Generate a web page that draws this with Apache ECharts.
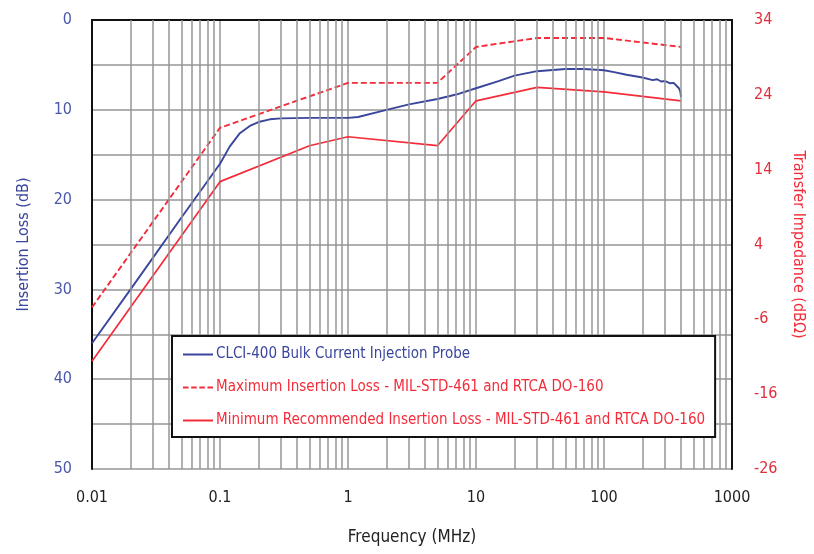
<!DOCTYPE html>
<html>
<head>
<meta charset="utf-8">
<script src="https://cdn.jsdelivr.net/npm/echarts@6/dist/echarts.min.js"></script>
<style>html,body{margin:0;padding:0;background:#fff}#c{width:814px;height:554px}</style>
</head>
<body>
<div id="c"></div>
<script>
// ---- data ----
const xTickLabels = ['0.01', '0.1', '1', '10', '100', '1000'];
const leftTickLabels = ['0', '10', '20', '30', '40', '50'];
const rightTickLabels = ['34', '24', '14', '4', '-6', '-16', '-26'];

const probeFreq = [0.01, 0.02, 0.05, 0.1, 0.119, 0.143, 0.171, 0.204, 0.245, 0.3, 0.5, 1, 1.2, 2, 3, 5, 7, 10, 15, 20, 30, 50, 70, 100, 120, 150, 200, 240, 260, 280, 300, 330, 350, 370, 385, 395, 400];
const probeLoss = [36, 30, 22, 16, 14.1, 12.6, 11.8, 11.33, 11.06, 10.95, 10.9, 10.9, 10.8, 10.0, 9.4, 8.8, 8.3, 7.6, 6.8, 6.2, 5.7, 5.45, 5.45, 5.6, 5.8, 6.1, 6.4, 6.7, 6.6, 6.85, 6.8, 7.05, 7.0, 7.35, 7.6, 8.0, 8.6];

const maxFreq = [0.01, 0.1, 1, 5, 10, 30, 100, 400];
const maxLoss = [32, 12, 7, 7, 3, 2, 2, 3];

const minFreq = [0.01, 0.1, 0.5, 1, 5, 10, 30, 100, 400];
const minLoss = [38, 18, 14, 13, 14, 9, 7.5, 8, 9];

const seriesNames = [
  'CLCI-400 Bulk Current Injection Probe',
  'Maximum Insertion Loss - MIL-STD-461 and RTCA DO-160',
  'Minimum Recommended Insertion Loss - MIL-STD-461 and RTCA DO-160'
];

// minor vertical grid lines (2..9 within each decade)
const minorGridFreq = [];
[0.01, 0.1, 1, 10, 100].forEach(d => { for (let k = 2; k <= 9; k++) minorGridFreq.push(+(d * k).toPrecision(3)); });

const BLUE = '#3a469c';
const RED = '#f42c3a';
const GRID = '#969696';
const FONT = '"DejaVu Sans Condensed", "Liberation Sans Narrow", sans-serif';
const zip = (a, b) => a.map((x, i) => [x, b[i]]);
const ICON_SOLID = 'path://M0,0H30V2H0Z';
const ICON_DASH = 'path://M0,0H5.5V2H0Z M8.2,0H13.7V2H8.2Z M16.3,0H21.8V2H16.3Z M24.5,0H30V2H24.5Z';

const chart = echarts.init(document.getElementById('c'), null, { renderer: 'canvas' });
chart.setOption({
  animation: false,
  backgroundColor: '#fff',
  textStyle: { fontFamily: FONT },
  grid: { left: 92, right: 81, top: 20, bottom: 85, containLabel: false },
  legend: {
    orient: 'vertical',
    left: 172, top: 336, z: 20,
    padding: [11, 10, 9, 11],
    backgroundColor: '#fff',
    borderColor: '#111', borderWidth: 2, borderRadius: 0,
    itemWidth: 30, itemHeight: 14, itemGap: 18,
    textStyle: { fontFamily: FONT, fontSize: 15, padding: [0, 0, 0, -2] },
    data: [
      { name: seriesNames[0], icon: ICON_SOLID, textStyle: { color: BLUE } },
      { name: seriesNames[1], icon: ICON_DASH, textStyle: { color: RED } },
      { name: seriesNames[2], icon: ICON_SOLID, textStyle: { color: RED } }
    ]
  },
  xAxis: [{
    type: 'log', logBase: 10, min: 0.01, max: 1000,
    name: 'Frequency (MHz)', nameLocation: 'middle', nameGap: 60,
    nameTextStyle: { color: '#222', fontSize: 17, fontFamily: FONT },
    axisLine: { show: true, lineStyle: { color: '#111', width: 2 } },
    axisTick: { show: false },
    axisLabel: { color: '#222', fontSize: 16, margin: 21,
      formatter: v => xTickLabels[Math.round(Math.log10(v)) + 2] },
    splitLine: { show: true, lineStyle: { color: GRID, width: 1.5 } }
  }, {
    type: 'log', logBase: 10, min: 0.01, max: 1000, position: 'top',
    axisLine: { show: true, lineStyle: { color: '#111', width: 2 } },
    axisTick: { show: false }, axisLabel: { show: false }, splitLine: { show: false }
  }],
  yAxis: [{
    type: 'value', min: 0, max: 50, interval: 10, inverse: true,
    name: 'Insertion Loss (dB)', nameLocation: 'middle', nameGap: 60,
    nameTextStyle: { color: BLUE, fontSize: 16, fontFamily: FONT },
    axisLine: { show: true, lineStyle: { color: '#111', width: 2 } },
    axisTick: { show: false },
    axisLabel: { color: '#4a58ac', fontSize: 16, margin: 20,
      formatter: v => leftTickLabels[Math.round(v / 10)] },
    splitLine: { show: true, lineStyle: { color: GRID, width: 1.5 } },
    minorTick: { show: false, splitNumber: 2 },
    minorSplitLine: { show: true, lineStyle: { color: GRID, width: 1.5 } }
  }, {
    // right axis: -26..34 dBΩ shown top-down as index positions 0..60
    type: 'value', min: 0, max: 60, interval: 10, inverse: true, position: 'right',
    name: 'Transfer Impedance (dBΩ)', nameLocation: 'middle', nameGap: 58, nameRotate: -90,
    nameTextStyle: { color: RED, fontSize: 16, fontFamily: FONT },
    axisLine: { show: true, lineStyle: { color: '#111', width: 2 } },
    axisTick: { show: false },
    axisLabel: { color: '#e0303c', fontSize: 16, margin: 22,
      formatter: v => rightTickLabels[Math.round(v / 10)] },
    splitLine: { show: false }
  }],
  series: [{
    type: 'line', name: '__grid', data: [], silent: true, z: 1,
    markLine: {
      silent: true, symbol: 'none', label: { show: false },
      lineStyle: { color: GRID, width: 1.5, type: 'solid' },
      emphasis: { disabled: true },
      data: minorGridFreq.map(f => ({ xAxis: f }))
    }
  }, {
    type: 'line', name: seriesNames[0], data: zip(probeFreq, probeLoss),
    symbol: 'none', z: 3,
    lineStyle: { color: BLUE, width: 1.9 }, itemStyle: { color: BLUE }
  }, {
    type: 'line', name: seriesNames[1], data: zip(maxFreq, maxLoss),
    symbol: 'none', z: 3,
    lineStyle: { color: RED, width: 1.9, type: [6, 3] }, itemStyle: { color: RED }
  }, {
    type: 'line', name: seriesNames[2], data: zip(minFreq, minLoss),
    symbol: 'none', z: 3,
    lineStyle: { color: RED, width: 1.7 }, itemStyle: { color: RED }
  }]
});
</script>
</body>
</html>
